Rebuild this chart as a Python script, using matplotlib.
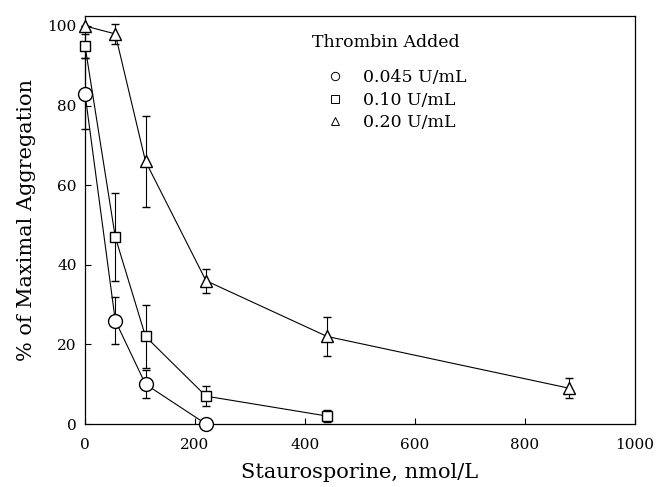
import matplotlib
matplotlib.use("Agg")
import matplotlib.pyplot as plt
from matplotlib.lines import Line2D

# Data
x_c = [0, 55, 110, 220]
y_c = [83, 26, 10, 0]
e_c = [9, 6, 3.5, 0]

x_s = [0, 55, 110, 220, 440]
y_s = [95, 47, 22, 7, 2]
e_s = [3, 11, 8, 2.5, 1.5]

x_t = [0, 55, 110, 220, 440, 880]
y_t = [100, 98, 66, 36, 22, 9]
e_t = [0, 2.5, 11.5, 3, 5, 2.5]

labels = ["0.045 U/mL", "0.10 U/mL", "0.20 U/mL"]
legend_title = "Thrombin Added"
xticks = [0, 200, 400, 600, 800, 1000]
yticks = [0, 20, 40, 60, 80, 100]

plt.rcParams['font.family'] = ['DejaVu Serif']

fig = plt.figure(figsize=(6.56, 4.87), dpi=100)
ax = fig.add_axes([85/656, 1-424/487, (635-85)/656, (424-16)/487])

kw = dict(color='black', lw=0.8, elinewidth=0.8, capsize=3, capthick=0.8,
          markerfacecolor='white', markeredgecolor='black', markeredgewidth=1.0)
for xs, ys, es, m, ms in [(x_c, y_c, e_c, 'o', 10), (x_s, y_s, e_s, 's', 7.5),
                          (x_t, y_t, e_t, '^', 9)]:
    cont = ax.errorbar(xs, ys, yerr=es, marker=m, ms=ms, **kw, zorder=3)
    cont.lines[0].set_clip_on(False)
    for art in list(cont.lines[1]) + list(cont.lines[2]):
        art.set_clip_on(False)

ax.set_xlim(0, 1000)
ax.set_ylim(0, 102.5)
ax.set_xticks(xticks)
ax.set_yticks(yticks)
ax.tick_params(direction='in', length=4, width=0.8, labelsize=11)
ax.tick_params(axis='x', pad=10)
ax.tick_params(axis='y', pad=6)
for s in ax.spines.values():
    s.set_linewidth(0.9)

ax.set_xlabel("Staurosporine, nmol/L", fontsize=15, labelpad=8)
ax.set_ylabel("% of Maximal Aggregation", fontsize=15, labelpad=8)

ax.text(0.413, 0.935, legend_title, transform=ax.transAxes, fontsize=12.5,
        ha='left', va='center')
handles = [Line2D([], [], ls='none', marker='o', ms=6, mfc='white', mec='black', mew=0.7),
           Line2D([], [], ls='none', marker='s', ms=5.5, mfc='white', mec='black', mew=0.7),
           Line2D([], [], ls='none', marker='^', ms=6, mfc='white', mec='black', mew=0.7)]
leg = ax.legend(handles, labels, loc='upper left',
                bbox_to_anchor=(0.43, 0.87), frameon=False, fontsize=12.5,
                handletextpad=0.9, handlelength=1.5, borderaxespad=0,
                borderpad=0, labelspacing=0.33)

fig.savefig("out.png", dpi=100)
